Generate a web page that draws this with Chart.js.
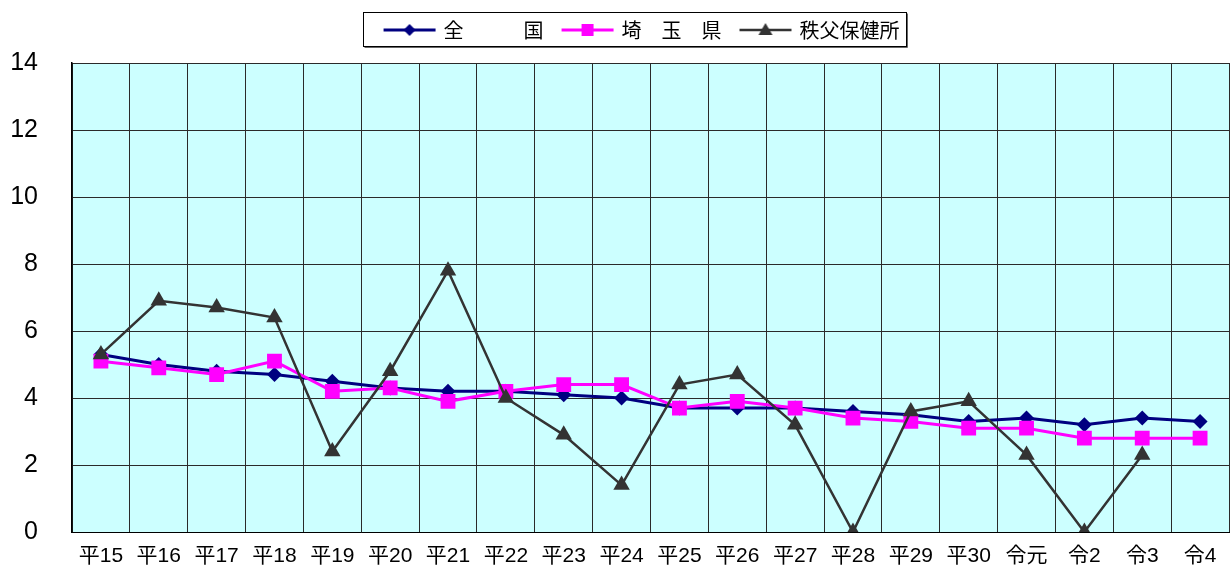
<!DOCTYPE html>
<html lang="ja">
<head>
<meta charset="utf-8">
<script src="https://cdn.jsdelivr.net/npm/chart.js@4.4.1/dist/chart.umd.min.js"></script>
<style>
html,body{margin:0;padding:0;background:#fff;}
#wrap{width:1231px;height:572px;position:relative;}
</style>
</head>
<body>
<div id="wrap"><canvas id="c" width="1231" height="572"></canvas></div>
<script>
// 年度ラベル
const categories = ['平15','平16','平17','平18','平19','平20','平21','平22','平23','平24',
                    '平25','平26','平27','平28','平29','平30','令元','令2','令3','令4'];
// 系列データ
const zenkoku  = [5.3,5.0,4.8,4.7,4.5,4.3,4.2,4.2,4.1,4.0,3.7,3.7,3.7,3.6,3.5,3.3,3.4,3.2,3.4,3.3];
const saitama  = [5.1,4.9,4.7,5.1,4.2,4.3,3.9,4.2,4.4,4.4,3.7,3.9,3.7,3.4,3.3,3.1,3.1,2.8,2.8,2.8];
const chichibu = [5.3,6.9,6.7,6.4,2.4,4.8,7.8,4.0,2.9,1.4,4.4,4.7,3.2,0,3.6,3.9,2.3,0,2.3,null];
const seriesNames = ['全　　　国','埼　玉　県','秩父保健所'];
// 縦軸の範囲
const yMin = 0, yMax = 14, yStep = 2;

const COLORS = ['#000080','#FF00FF','#333333'];
const STYLES = ['rectRot','rect','triangle'];
const RADII  = [7.5,10.5,9.5];
const WIDTHS = [3,3,2.5];

// 凡例用アイコン（線＋マーカー）
function makeIcon(i){
  const cv = document.createElement('canvas');
  cv.width = 54; cv.height = 20;
  const g = cv.getContext('2d');
  g.strokeStyle = COLORS[i]; g.lineWidth = WIDTHS[i];
  g.beginPath(); g.moveTo(1,10); g.lineTo(53,10); g.stroke();
  g.fillStyle = COLORS[i];
  const cx = 27, cy = 10;
  g.beginPath();
  if (STYLES[i] === 'rectRot'){
    g.moveTo(cx, cy-6); g.lineTo(cx+6, cy); g.lineTo(cx, cy+6); g.lineTo(cx-6, cy);
  } else if (STYLES[i] === 'rect'){
    g.rect(cx-6, cy-6, 12, 12);
  } else {
    g.moveTo(cx, cy-7); g.lineTo(cx+7, cy+5); g.lineTo(cx-7, cy+5);
  }
  g.closePath(); g.fill();
  return cv;
}
const icons = [0,1,2].map(makeIcon);

const LEGEND_H = 63;
const LEGEND_SHIFT = 28;

const layoutPlugin = {
  id: 'layoutTweaks',
  beforeLayout(chart){
    const lg = chart.legend;
    if (lg && !lg._fitWrapped){
      const origFit = lg.fit;
      lg.fit = function(){ origFit.call(this); this.height = LEGEND_H; };
      lg._fitWrapped = true;
    }
  },
  afterLayout(chart){
    if (chart.legend){
      chart.legend.left += LEGEND_SHIFT;
      chart.legend.right += LEGEND_SHIFT;
    }
  },
  beforeDraw(chart){
    const {ctx, chartArea:a} = chart;
    ctx.save();
    ctx.fillStyle = '#ffffff';
    ctx.fillRect(0,0,chart.width,chart.height);
    ctx.fillStyle = '#CCFFFF';
    ctx.fillRect(a.left, a.top, a.right-a.left, a.bottom-a.top);
    ctx.restore();
  },
  afterDraw(chart){
    // 凡例の枠
    const lg = chart.legend;
    if (!lg || !lg.lineWidths) return;
    const pad = lg.options.labels.padding;
    const start = (lg.left + pad + lg.right - lg.lineWidths[0]) / 2;
    const x0 = Math.round(start - 23) + 0.5;
    const x1 = Math.round(start + lg.lineWidths[0] - pad + 7) + 0.5;
    const y0 = 12.5, y1 = 46.5;
    const ctx = chart.ctx;
    ctx.save();
    ctx.strokeStyle = '#000'; ctx.lineWidth = 1;
    ctx.strokeRect(x0, y0, x1-x0, y1-y0);
    ctx.strokeStyle = '#666';
    ctx.beginPath(); ctx.moveTo(x0+1, y1+1); ctx.lineTo(x1+1, y1+1); ctx.lineTo(x1+1, y0+1); ctx.stroke();
    ctx.restore();
  }
};

const seriesData = [zenkoku, saitama, chichibu];
const datasets = seriesData.map((d,i) => ({
  label: seriesNames[i],
  data: d,
  borderColor: COLORS[i],
  backgroundColor: COLORS[i],
  borderWidth: WIDTHS[i],
  pointStyle: STYLES[i],
  pointRadius: RADII[i],
  pointHoverRadius: RADII[i],
  pointBorderWidth: 0,
  tension: 0,
  order: 3 - i
}));

new Chart(document.getElementById('c'), {
  type: 'line',
  data: { labels: categories, datasets },
  options: {
    responsive: false,
    animation: false,
    events: [],
    layout: { autoPadding: false, padding: { left: 0, right: 2, top: 0, bottom: 0 } },
    plugins: {
      tooltip: { enabled: false },
      legend: {
        position: 'top',
        labels: {
          usePointStyle: true,
          pointStyleWidth: 48,
          padding: 20,
          color: '#000',
          font: { family: "'Noto Sans CJK JP'", size: 20 },
          sort: (a,b) => a.datasetIndex - b.datasetIndex,
          generateLabels(chart){
            const items = Chart.defaults.plugins.legend.labels.generateLabels(chart);
            items.forEach(it => { it.pointStyle = icons[it.datasetIndex]; });
            return items;
          }
        }
      }
    },
    scales: {
      x: {
        offset: true,
        grid: { offset: true, color: '#2a2a2a', lineWidth: 1, drawTicks: false },
        border: { color: '#000', width: 1 },
        ticks: {
          color: '#000',
          font: { family: "'Liberation Sans','Noto Sans CJK JP'", size: 21 },
          padding: 12, maxRotation: 0, autoSkip: false
        },
        afterFit(s){ s.height = 40; s.paddingLeft = 0; s.paddingRight = 0; }
      },
      y: {
        min: yMin, max: yMax,
        grid: { color: '#2a2a2a', lineWidth: 1, drawTicks: false },
        border: { color: '#000', width: 1.5 },
        ticks: {
          stepSize: yStep,
          color: '#000',
          font: { family: "'Liberation Sans'", size: 25 },
          padding: 34
        },
        afterFit(s){ s.width = 72; s.paddingTop = 0; s.paddingBottom = 0; }
      }
    }
  },
  plugins: [layoutPlugin]
});
</script>
</body>
</html>
